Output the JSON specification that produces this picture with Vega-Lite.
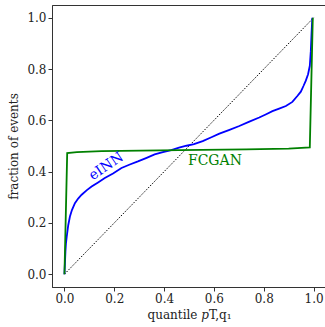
{
  "$schema": "https://vega.github.io/schema/vega-lite/v6.json",
  "autosize": {"type": "none"},
  "padding": {"left": 52, "top": 5, "right": 0, "bottom": 40},
  "width": 274,
  "height": 282,
  "background": "white",
  "config": {
    "view": {"stroke": "#333333", "strokeWidth": 1},
    "font": "DejaVu Serif",
    "text": {"font": "DejaVu Serif"},
    "axis": {
      "grid": false,
      "domainColor": "#333333",
      "tickColor": "#333333",
      "tickSize": 4,
      "labelFont": "DejaVu Serif",
      "titleFont": "DejaVu Serif",
      "labelFontSize": 12,
      "titleFontSize": 12,
      "labelColor": "#222222",
      "titleColor": "#222222",
      "titleFontWeight": "normal"
    }
  },
  "datasets": {
    "curves": [
      {"q": 0.0, "f": 0.0, "s": "eINN"},
      {"q": 0.002, "f": 0.045, "s": "eINN"},
      {"q": 0.004, "f": 0.09, "s": "eINN"},
      {"q": 0.006, "f": 0.12, "s": "eINN"},
      {"q": 0.009, "f": 0.145, "s": "eINN"},
      {"q": 0.015, "f": 0.19, "s": "eINN"},
      {"q": 0.022, "f": 0.225, "s": "eINN"},
      {"q": 0.03, "f": 0.25, "s": "eINN"},
      {"q": 0.042, "f": 0.277, "s": "eINN"},
      {"q": 0.055, "f": 0.295, "s": "eINN"},
      {"q": 0.069, "f": 0.31, "s": "eINN"},
      {"q": 0.09, "f": 0.328, "s": "eINN"},
      {"q": 0.109, "f": 0.342, "s": "eINN"},
      {"q": 0.135, "f": 0.358, "s": "eINN"},
      {"q": 0.162, "f": 0.375, "s": "eINN"},
      {"q": 0.195, "f": 0.393, "s": "eINN"},
      {"q": 0.229, "f": 0.414, "s": "eINN"},
      {"q": 0.26, "f": 0.427, "s": "eINN"},
      {"q": 0.295, "f": 0.44, "s": "eINN"},
      {"q": 0.33, "f": 0.454, "s": "eINN"},
      {"q": 0.362, "f": 0.467, "s": "eINN"},
      {"q": 0.395, "f": 0.476, "s": "eINN"},
      {"q": 0.429, "f": 0.484, "s": "eINN"},
      {"q": 0.46, "f": 0.494, "s": "eINN"},
      {"q": 0.49, "f": 0.501, "s": "eINN"},
      {"q": 0.52, "f": 0.507, "s": "eINN"},
      {"q": 0.555, "f": 0.519, "s": "eINN"},
      {"q": 0.59, "f": 0.534, "s": "eINN"},
      {"q": 0.622, "f": 0.548, "s": "eINN"},
      {"q": 0.66, "f": 0.562, "s": "eINN"},
      {"q": 0.702, "f": 0.578, "s": "eINN"},
      {"q": 0.74, "f": 0.594, "s": "eINN"},
      {"q": 0.782, "f": 0.611, "s": "eINN"},
      {"q": 0.81, "f": 0.624, "s": "eINN"},
      {"q": 0.835, "f": 0.636, "s": "eINN"},
      {"q": 0.862, "f": 0.646, "s": "eINN"},
      {"q": 0.889, "f": 0.656, "s": "eINN"},
      {"q": 0.915, "f": 0.672, "s": "eINN"},
      {"q": 0.935, "f": 0.695, "s": "eINN"},
      {"q": 0.949, "f": 0.712, "s": "eINN"},
      {"q": 0.96, "f": 0.735, "s": "eINN"},
      {"q": 0.969, "f": 0.755, "s": "eINN"},
      {"q": 0.978, "f": 0.78, "s": "eINN"},
      {"q": 0.985, "f": 0.813, "s": "eINN"},
      {"q": 0.989, "f": 0.87, "s": "eINN"},
      {"q": 0.992, "f": 0.94, "s": "eINN"},
      {"q": 0.995, "f": 1.0, "s": "eINN"},
      {"q": 0.0, "f": 0.0, "s": "FCGAN"},
      {"q": 0.011, "f": 0.472, "s": "FCGAN"},
      {"q": 0.05, "f": 0.476, "s": "FCGAN"},
      {"q": 0.149, "f": 0.48, "s": "FCGAN"},
      {"q": 0.462, "f": 0.484, "s": "FCGAN"},
      {"q": 0.729, "f": 0.487, "s": "FCGAN"},
      {"q": 0.9, "f": 0.49, "s": "FCGAN"},
      {"q": 0.985, "f": 0.495, "s": "FCGAN"},
      {"q": 0.997, "f": 1.0, "s": "FCGAN"}
    ],
    "diag": [
      {"q": 0.0, "f": 0.0},
      {"q": 1.0, "f": 1.0}
    ],
    "labels": [
      {"q": 0.168, "f": 0.42, "s": "eINN", "a": -34},
      {"q": 0.604, "f": 0.441, "s": "FCGAN", "a": 0}
    ]
  },
  "encoding": {
    "x": {
      "field": "q", "type": "quantitative",
      "scale": {"domain": [-0.05, 1.05], "nice": false, "zero": false},
      "axis": {"values": [0, 0.2, 0.4, 0.6, 0.8, 1.0], "format": ".1f", "title": "quantile 𝑝T,q₁", "titlePadding": 5, "labelFont": "DejaVu Serif", "titleFont": "DejaVu Serif"}
    },
    "y": {
      "field": "f", "type": "quantitative",
      "scale": {"domain": [-0.05, 1.05], "nice": false, "zero": false},
      "axis": {"values": [0, 0.2, 0.4, 0.6, 0.8, 1.0], "format": ".1f", "title": "fraction of events", "titlePadding": 6, "labelFont": "DejaVu Serif", "titleFont": "DejaVu Serif"}
    }
  },
  "layer": [
    {
      "data": {"name": "diag"},
      "mark": {"type": "line", "color": "black", "strokeWidth": 1, "strokeDash": [1.5, 1.5]},
      "encoding": {}
    },
    {
      "data": {"name": "curves"},
      "mark": {"type": "line", "strokeWidth": 1.8},
      "encoding": {
        "color": {"field": "s", "type": "nominal", "scale": {"domain": ["eINN", "FCGAN"], "range": ["#0000ff", "#008000"]}, "legend": null},
        "detail": {"field": "s"}
      }
    },
    {
      "data": {"name": "labels"},
      "mark": {"type": "text", "fontSize": 14, "font": "DejaVu Serif", "align": "center", "baseline": "middle"},
      "encoding": {
        "text": {"field": "s"},
        "angle": {"field": "a", "type": "quantitative", "scale": null},
        "color": {"field": "s", "type": "nominal", "scale": {"domain": ["eINN", "FCGAN"], "range": ["#3a3aff", "#2a8a2a"]}, "legend": null}
      }
    }
  ]
}
